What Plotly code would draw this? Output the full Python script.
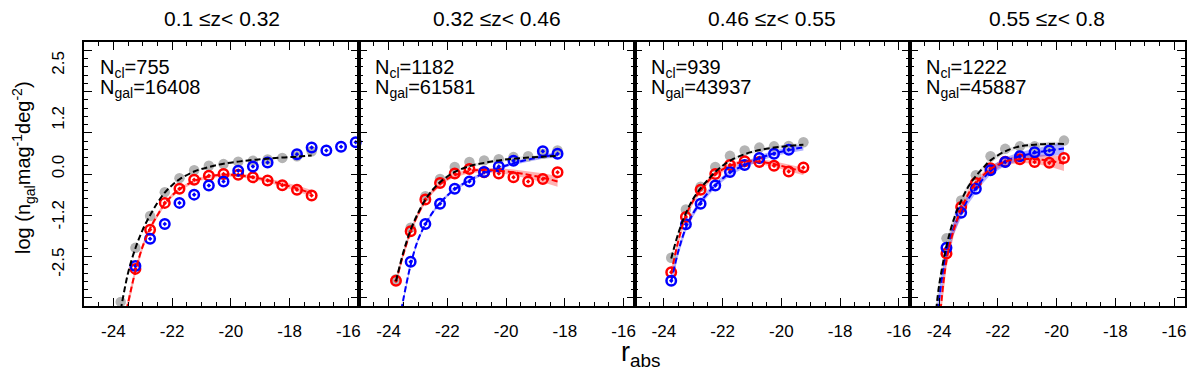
import plotly.graph_objects as go

# ---- panel labels ----
z_titles = ["0.1 ≤z< 0.32", "0.32 ≤z< 0.46", "0.46 ≤z< 0.55", "0.55 ≤z< 0.8"]
n_cl = [755, 1182, 939, 1222]
n_gal = [16408, 61581, 43937, 45887]

x_ticks = [-24, -22, -20, -18, -16]
y_labels = ["-2.5", "-1.2", "0.0", "1.2", "2.5"]
y_label_pos = [-2.2, -1.05, 0.12, 1.3, 2.63]

# ---- panel 1: 0.1 <= z < 0.32 ----
p1_all_x = [-23.75, -23.25, -22.75, -22.25, -21.75, -21.25, -20.75, -20.25, -19.75, -19.25, -18.75, -18.25, -17.75, -17.25]
p1_all_y = [-3.10, -1.79, -1.02, -0.44, -0.10, 0.09, 0.20, 0.24, 0.30, 0.32, 0.35, 0.39, 0.43, 0.55]
p1_red_x = [-23.25, -22.75, -22.25, -21.75, -21.25, -20.75, -20.25, -19.75, -19.25, -18.75, -18.25, -17.75, -17.25]
p1_red_y = [-2.30, -1.35, -0.70, -0.36, -0.14, -0.04, 0.00, -0.02, -0.08, -0.16, -0.27, -0.38, -0.52]
p1_blue_x = [-23.25, -22.75, -22.25, -21.75, -21.25, -20.75, -20.25, -19.75, -19.25, -18.75, -17.75, -17.25, -16.75, -16.25, -15.75]
p1_blue_y = [-2.23, -1.57, -1.21, -0.70, -0.50, -0.28, -0.18, 0.08, 0.18, 0.28, 0.48, 0.64, 0.57, 0.66, 0.77]

p1_fit_all_x = [-23.75, -23.5, -23.25, -23.0, -22.75, -22.5, -22.25, -22.0, -21.75, -21.25, -20.75, -20.25, -19.75, -19.25, -18.75, -18.25, -17.75, -17.25]
p1_fit_all_y = [-3.3, -2.4, -1.8, -1.35, -1.0, -0.7, -0.45, -0.27, -0.13, 0.06, 0.17, 0.25, 0.30, 0.34, 0.37, 0.40, 0.42, 0.45]
p1_fit_red_x = [-23.55, -23.25, -23.0, -22.75, -22.5, -22.25, -22.0, -21.75, -21.25, -20.75, -20.25, -19.75, -19.25, -18.75, -18.25, -17.75, -17.25]
p1_fit_red_y = [-3.3, -2.35, -1.75, -1.32, -1.0, -0.72, -0.52, -0.37, -0.17, -0.06, -0.02, -0.03, -0.08, -0.15, -0.25, -0.35, -0.47]
p1_fit_red_err = [0.15, 0.10, 0.08, 0.07, 0.06, 0.05, 0.05, 0.04, 0.04, 0.04, 0.04, 0.04, 0.05, 0.05, 0.06, 0.07, 0.08]

# ---- panel 2: 0.32 <= z < 0.46 ----
p2_all_x = [-23.75, -23.25, -22.75, -22.25, -21.75, -21.25, -20.75, -20.25, -19.75, -19.25, -18.75, -18.25]
p2_all_y = [-2.55, -1.30, -0.54, -0.12, 0.17, 0.29, 0.33, 0.36, 0.41, 0.43, 0.49, 0.57]
p2_red_x = [-23.75, -23.25, -22.75, -22.25, -21.75, -21.25, -20.75, -20.25, -19.75, -19.25, -18.75, -18.25]
p2_red_y = [-2.59, -1.39, -0.62, -0.22, 0.01, 0.12, 0.04, 0.01, -0.08, -0.18, -0.12, 0.04]
p2_blue_x = [-23.25, -22.75, -22.25, -21.75, -21.25, -20.75, -20.25, -19.75, -18.75, -18.25]
p2_blue_y = [-2.13, -1.21, -0.72, -0.36, -0.18, 0.05, 0.18, 0.32, 0.55, 0.49]

p2_fit_x = [-23.75, -23.5, -23.25, -23.0, -22.75, -22.5, -22.25, -22.0, -21.75, -21.25, -20.75, -20.25, -19.75, -19.25, -18.75, -18.25]
p2_fit_all_y = [-2.6, -1.9, -1.35, -0.95, -0.62, -0.38, -0.2, -0.06, 0.05, 0.19, 0.27, 0.33, 0.37, 0.40, 0.42, 0.44]
p2_fit_all_err = [0.06, 0.05, 0.05, 0.04, 0.04, 0.04, 0.04, 0.04, 0.04, 0.04, 0.04, 0.04, 0.04, 0.04, 0.05, 0.05]
p2_fit_red_y = [-2.62, -1.95, -1.4, -0.98, -0.65, -0.42, -0.25, -0.12, -0.03, 0.07, 0.10, 0.08, 0.04, -0.02, -0.09, -0.18]
p2_fit_red_err = [0.08, 0.07, 0.06, 0.06, 0.05, 0.05, 0.05, 0.05, 0.05, 0.05, 0.05, 0.06, 0.07, 0.09, 0.11, 0.13]
p2_fit_blue_x = [-23.57, -23.25, -23.0, -22.75, -22.5, -22.25, -22.0, -21.75, -21.25, -20.75, -20.25, -19.75, -19.25, -18.75, -18.25]
p2_fit_blue_y = [-3.3, -2.2, -1.6, -1.22, -0.93, -0.7, -0.52, -0.37, -0.15, 0.02, 0.15, 0.26, 0.35, 0.42, 0.47]
p2_fit_blue_err = [0.06, 0.05, 0.04, 0.04, 0.04, 0.04, 0.04, 0.04, 0.04, 0.04, 0.04, 0.04, 0.05, 0.05, 0.06]

# ---- panel 3: 0.46 <= z < 0.55 ----
p3_all_x = [-23.75, -23.25, -22.75, -22.25, -21.75, -21.25, -20.75, -20.25, -19.75, -19.25]
p3_all_y = [-2.03, -0.86, -0.31, 0.17, 0.44, 0.57, 0.64, 0.67, 0.68, 0.77]
p3_red_x = [-23.75, -23.25, -22.75, -22.25, -21.75, -21.25, -20.75, -20.25, -19.75, -19.25]
p3_red_y = [-2.38, -1.04, -0.38, 0.00, 0.22, 0.31, 0.29, 0.20, 0.06, 0.16]
p3_blue_x = [-23.75, -23.25, -22.75, -22.25, -21.75, -21.25, -20.75, -20.25, -19.75]
p3_blue_y = [-2.59, -1.22, -0.72, -0.28, 0.05, 0.22, 0.39, 0.49, 0.59]

p3_fit_x = [-23.75, -23.5, -23.25, -23.0, -22.75, -22.5, -22.25, -22.0, -21.75, -21.25, -20.75, -20.25, -19.75, -19.25]
p3_fit_all_y = [-2.05, -1.42, -0.95, -0.6, -0.35, -0.14, 0.05, 0.2, 0.32, 0.48, 0.58, 0.64, 0.68, 0.71]
p3_fit_all_err = [0.07, 0.06, 0.05, 0.05, 0.04, 0.04, 0.04, 0.04, 0.04, 0.04, 0.04, 0.04, 0.05, 0.05]
p3_fit_red_y = [-2.4, -1.6, -1.0, -0.65, -0.4, -0.18, 0.0, 0.11, 0.2, 0.3, 0.3, 0.24, 0.15, 0.06]
p3_fit_red_err = [0.12, 0.10, 0.08, 0.07, 0.06, 0.06, 0.06, 0.06, 0.06, 0.06, 0.06, 0.07, 0.08, 0.09]
p3_fit_blue_y = [-2.6, -1.85, -1.3, -0.95, -0.68, -0.46, -0.27, -0.11, 0.03, 0.22, 0.38, 0.5, 0.58, 0.65]
p3_fit_blue_err = [0.12, 0.10, 0.09, 0.08, 0.08, 0.08, 0.07, 0.07, 0.07, 0.07, 0.07, 0.07, 0.07, 0.08]

# ---- panel 4: 0.55 <= z < 0.8 ----
p4_all_x = [-23.75, -23.25, -22.75, -22.25, -21.75, -21.25, -20.75, -20.25, -19.75]
p4_all_y = [-1.56, -0.64, -0.03, 0.43, 0.61, 0.67, 0.67, 0.64, 0.81]
p4_red_x = [-23.75, -23.25, -22.75, -22.25, -21.75, -21.25, -20.75, -20.25, -19.75]
p4_red_y = [-1.93, -0.80, -0.22, 0.14, 0.30, 0.36, 0.29, 0.27, 0.39]
p4_blue_x = [-23.75, -23.25, -22.75, -22.25, -21.75, -21.25, -20.75, -20.25]
p4_blue_y = [-1.79, -0.94, -0.36, 0.09, 0.29, 0.43, 0.53, 0.57]

p4_fit_all_x = [-24.1, -24.0, -23.75, -23.5, -23.25, -23.0, -22.75, -22.5, -22.25, -21.75, -21.25, -20.75, -20.25, -19.75]
p4_fit_all_y = [-3.3, -2.7, -1.75, -1.1, -0.65, -0.3, -0.05, 0.15, 0.33, 0.55, 0.67, 0.71, 0.73, 0.73]
p4_fit_all_err = [0.2, 0.18, 0.15, 0.12, 0.1, 0.08, 0.07, 0.06, 0.06, 0.05, 0.05, 0.05, 0.05, 0.05]
p4_fit_red_x = [-23.95, -23.75, -23.5, -23.25, -23.0, -22.75, -22.5, -22.25, -21.75, -21.25, -20.75, -20.25, -19.75]
p4_fit_red_y = [-3.3, -2.1, -1.35, -0.85, -0.48, -0.22, -0.03, 0.12, 0.3, 0.36, 0.36, 0.32, 0.25]
p4_fit_red_err = [0.2, 0.18, 0.14, 0.12, 0.1, 0.09, 0.08, 0.08, 0.08, 0.09, 0.11, 0.14, 0.18]
p4_fit_blue_x = [-24.05, -23.75, -23.5, -23.25, -23.0, -22.75, -22.5, -22.25, -21.75, -21.25, -20.75, -20.25, -19.75]
p4_fit_blue_y = [-3.3, -1.9, -1.3, -0.92, -0.6, -0.35, -0.12, 0.08, 0.3, 0.43, 0.51, 0.57, 0.62]
p4_fit_blue_err = [0.25, 0.2, 0.16, 0.14, 0.12, 0.11, 0.1, 0.1, 0.1, 0.1, 0.11, 0.13, 0.16]

panels = [
    dict(all=(p1_all_x, p1_all_y), red=(p1_red_x, p1_red_y), blue=(p1_blue_x, p1_blue_y),
         fit_all=(p1_fit_all_x, p1_fit_all_y, None),
         fit_red=(p1_fit_red_x, p1_fit_red_y, p1_fit_red_err),
         fit_blue=None),
    dict(all=(p2_all_x, p2_all_y), red=(p2_red_x, p2_red_y), blue=(p2_blue_x, p2_blue_y),
         fit_all=(p2_fit_x, p2_fit_all_y, p2_fit_all_err),
         fit_red=(p2_fit_x, p2_fit_red_y, p2_fit_red_err),
         fit_blue=(p2_fit_blue_x, p2_fit_blue_y, p2_fit_blue_err)),
    dict(all=(p3_all_x, p3_all_y), red=(p3_red_x, p3_red_y), blue=(p3_blue_x, p3_blue_y),
         fit_all=(p3_fit_x, p3_fit_all_y, p3_fit_all_err),
         fit_red=(p3_fit_x, p3_fit_red_y, p3_fit_red_err),
         fit_blue=(p3_fit_x, p3_fit_blue_y, p3_fit_blue_err)),
    dict(all=(p4_all_x, p4_all_y), red=(p4_red_x, p4_red_y), blue=(p4_blue_x, p4_blue_y),
         fit_all=(p4_fit_all_x, p4_fit_all_y, p4_fit_all_err),
         fit_red=(p4_fit_red_x, p4_fit_red_y, p4_fit_red_err),
         fit_blue=(p4_fit_blue_x, p4_fit_blue_y, p4_fit_blue_err)),
]

FONT = "Liberation Sans, Arial, sans-serif"
GREY = "#b4b4b4"
line_col = {"fit_all": "black", "fit_red": "#ff0000", "fit_blue": "#0000ff"}
band_col = {"fit_all": "rgba(170,170,170,0.3)", "fit_red": "rgba(255,0,0,0.3)", "fit_blue": "rgba(0,0,255,0.3)"}

# the page body adds an 8px margin, so the figure is drawn 16px smaller
OFF = 8
FIG_W, FIG_H = 1200 - 2 * OFF, 381 - 2 * OFF
# plot area, in page pixels
L, R, T, B = 84, 1185, 42, 306
W, H = R - L, B - T


def px_x(px):
    return (px - L) / W


def px_y(py):
    return (B - py) / H


fig = go.Figure()
for i, p in enumerate(panels):
    xa = "x" if i == 0 else "x%d" % (i + 1)
    ya = "y" if i == 0 else "y%d" % (i + 1)
    # shaded bands
    for key in ["fit_all", "fit_red", "fit_blue"]:
        f = p[key]
        if f is None or f[2] is None:
            continue
        fx, fy, fe = f
        up = [a + e for a, e in zip(fy, fe)]
        lo = [a - e for a, e in zip(fy, fe)]
        fig.add_trace(go.Scatter(x=fx + fx[::-1], y=up + lo[::-1], fill="toself",
                                 fillcolor=band_col[key], line=dict(width=0), mode="lines",
                                 hoverinfo="skip", showlegend=False, xaxis=xa, yaxis=ya))
    # points
    fig.add_trace(go.Scatter(x=p["all"][0], y=p["all"][1], mode="markers",
                             marker=dict(symbol="circle", size=10.5, color=GREY),
                             showlegend=False, xaxis=xa, yaxis=ya))
    fig.add_trace(go.Scatter(x=p["red"][0], y=p["red"][1], mode="markers",
                             marker=dict(symbol="circle-open-dot", size=9.5, color="#ff0000",
                                         line=dict(width=2.5, color="#ff0000")),
                             showlegend=False, xaxis=xa, yaxis=ya))
    fig.add_trace(go.Scatter(x=p["blue"][0], y=p["blue"][1], mode="markers",
                             marker=dict(symbol="circle-open-dot", size=9.5, color="#0000ff",
                                         line=dict(width=2.5, color="#0000ff")),
                             cliponaxis=False,
                             showlegend=False, xaxis=xa, yaxis=ya))
    # fitted curves
    for key in ["fit_blue", "fit_red", "fit_all"]:
        f = p[key]
        if f is None:
            continue
        fig.add_trace(go.Scatter(x=f[0], y=f[1], mode="lines",
                                 line=dict(color=line_col[key], width=2, dash="6px,3px", shape="spline"),
                                 showlegend=False, xaxis=xa, yaxis=ya))

axis_common = dict(showline=True, linecolor="black", linewidth=1.6, mirror="ticks",
                   ticks="inside", tickcolor="black", tickwidth=1.2, showgrid=False,
                   zeroline=False, automargin=False)

for i in range(4):
    sfx = "" if i == 0 else str(i + 1)
    fig.layout["xaxis" + sfx] = dict(
        axis_common, domain=[i / 4, (i + 1) / 4], range=[-25.0, -15.63], anchor="y" + sfx,
        tickmode="array", tickvals=x_ticks, ticktext=[str(v) for v in x_ticks], ticklen=8,
        tickfont=dict(family=FONT, size=17, color="black"), ticklabelstandoff=9,
        ticklabeloverflow="allow",
        minor=dict(tickmode="linear", tick0=0, dtick=0.5, ticklen=4, ticks="inside",
                   tickcolor="black", tickwidth=1.2))
    fig.layout["yaxis" + sfx] = dict(
        axis_common, domain=[0, 1], range=[-3.2, 3.2], anchor="x" + sfx,
        tickmode="linear", tick0=0, dtick=1, ticklen=8, showticklabels=False,
        minor=dict(tickmode="linear", tick0=0, dtick=0.2, ticklen=4, ticks="inside",
                   tickcolor="black", tickwidth=1.2))

# tick labels of the left panel
fig.layout["yaxis5"] = dict(overlaying="y", anchor="x", side="left", range=[-3.2, 3.2],
                            tickmode="array", tickvals=y_label_pos, ticktext=y_labels,
                            ticks="", showline=False, showgrid=False, zeroline=False,
                            automargin=False, tickangle=-90, ticklabelstandoff=16,
                            tickfont=dict(family=FONT, size=17, color="black"))
fig.add_trace(go.Scatter(x=[None], y=[None], xaxis="x", yaxis="y5", showlegend=False))

ann = []
for i in range(4):
    left_px = L + i * W / 4
    ann.append(dict(text=z_titles[i], x=(i + 0.5) / 4, y=px_y(18), xref="paper", yref="paper",
                    xanchor="center", yanchor="middle", showarrow=False,
                    font=dict(family=FONT, size=21, color="black")))
    ann.append(dict(text="N<sub>cl</sub>=%d" % n_cl[i], x=px_x(left_px + 14), y=px_y(68),
                    xref="paper", yref="paper", xanchor="left", yanchor="middle", showarrow=False,
                    font=dict(family=FONT, size=20, color="black")))
    ann.append(dict(text="N<sub>gal</sub>=%d" % n_gal[i], x=px_x(left_px + 14), y=px_y(89),
                    xref="paper", yref="paper", xanchor="left", yanchor="middle", showarrow=False,
                    font=dict(family=FONT, size=20, color="black")))

ann.append(dict(text="log (n<sub>gal</sub>mag<sup>-1</sup>deg<sup>-2</sup>)", x=px_x(23), y=px_y(168),
                xref="paper", yref="paper", xanchor="center", yanchor="middle", textangle=-90,
                showarrow=False, font=dict(family=FONT, size=20, color="black")))
ann.append(dict(text="r<sub>abs</sub>", x=px_x(640), y=px_y(354), xref="paper", yref="paper",
                xanchor="center", yanchor="middle", showarrow=False,
                font=dict(family=FONT, size=27, color="black")))

fig.update_layout(width=FIG_W, height=FIG_H,
                  margin=dict(l=L - OFF, r=OFF + FIG_W - R, t=T - OFF, b=OFF + FIG_H - B),
                  paper_bgcolor="white", plot_bgcolor="white", annotations=ann,
                  showlegend=False)

fig.write_html("out.html")
